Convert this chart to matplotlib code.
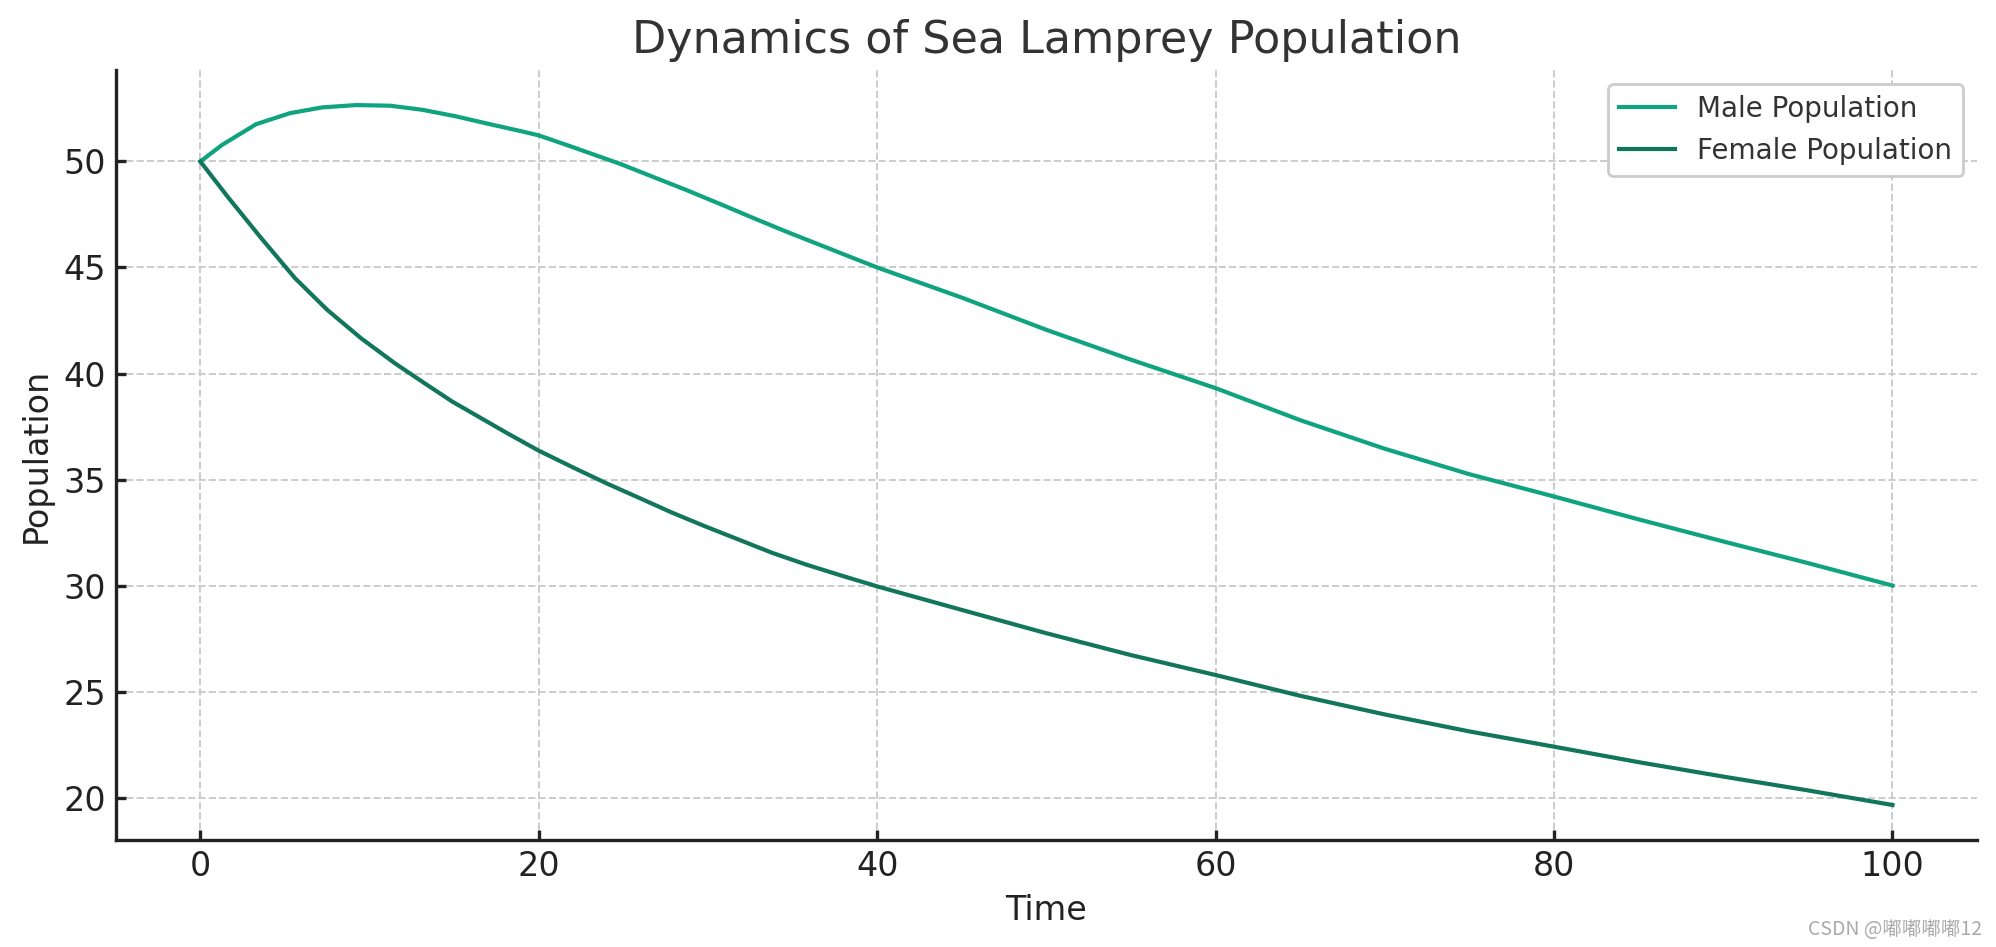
import matplotlib
matplotlib.use("Agg")
import matplotlib.pyplot as plt

# values
male_time = [0, 1.3, 3.3, 5.3, 7.2, 9.2, 11.2, 13.1, 15.1, 17.1, 19, 20, 22,
             24.8, 26.7, 28.7, 30.7, 32.6, 34.6, 36.6, 38.6, 40, 45, 50, 55,
             60, 65, 70, 75, 80, 85, 90, 95, 100]
male = [50.0, 50.79, 51.76, 52.28, 52.55, 52.66, 52.63, 52.44, 52.13, 51.76,
        51.42, 51.23, 50.68, 49.89, 49.29, 48.66, 48.0, 47.36, 46.7, 46.07,
        45.44, 45.0, 43.58, 42.06, 40.65, 39.31, 37.8, 36.45, 35.25, 34.2,
        33.12, 32.08, 31.06, 30.0]

female_time = [0, 1.6, 3.6, 5.6, 7.5, 9.5, 11.5, 13.4, 14.9, 16.1, 18.1, 20,
               22, 24, 26, 27.9, 29.9, 31.9, 33.8, 35.8, 37.8, 40, 45, 50, 55,
               60, 65, 70, 75, 80, 85, 90, 95, 100]
female = [50.0, 48.35, 46.38, 44.49, 43.0, 41.66, 40.48, 39.46, 38.67, 38.12,
          37.2, 36.36, 35.58, 34.82, 34.11, 33.43, 32.77, 32.14, 31.54, 30.99,
          30.49, 29.96, 28.85, 27.75, 26.72, 25.78, 24.8, 23.92, 23.12, 22.4,
          21.67, 20.99, 20.34, 19.65]

x_ticks = [0, 20, 40, 60, 80, 100]
y_ticks = [20, 25, 30, 35, 40, 45, 50]

plt.rcParams['font.family'] = ['DejaVu Sans']
plt.rcParams['axes.linewidth'] = 1.2

fig = plt.figure(figsize=(9.98, 4.735), dpi=200)
ax = fig.add_axes([0.058, 0.113, 0.9325, 0.813])

ax.plot(male_time, male, color='#10a37f', lw=1.5, label='Male Population')
ax.plot(female_time, female, color='#12765c', lw=1.5, label='Female Population')

ax.set_xticks(x_ticks)
ax.set_yticks(y_ticks)
ax.tick_params(direction='in', length=3.5, width=1.2, labelsize=12, colors='#222222')
ax.grid(True, linestyle='--', color='#cccccc', linewidth=0.7)
ax.spines['top'].set_visible(False)
ax.spines['right'].set_visible(False)
for s in ['left', 'bottom']:
    ax.spines[s].set_color('#222222')

ax.set_title('Dynamics of Sea Lamprey Population', fontsize=16, color='#333333')
ax.set_xlabel('Time', fontsize=12, color='#222222')
ax.set_ylabel('Population', fontsize=12, color='#222222')

leg = ax.legend(fontsize=10, loc='upper right', framealpha=1, edgecolor='#cccccc')
for t in leg.get_texts():
    t.set_color('#333333')

fig.text(0.993, 0.018, 'CSDN @嘟嘟嘟嘟12', ha='right', va='center', fontsize=7,
         color='#aaaaaa', family=['Noto Sans CJK SC', 'DejaVu Sans'])

fig.savefig('out.png', dpi=200)
